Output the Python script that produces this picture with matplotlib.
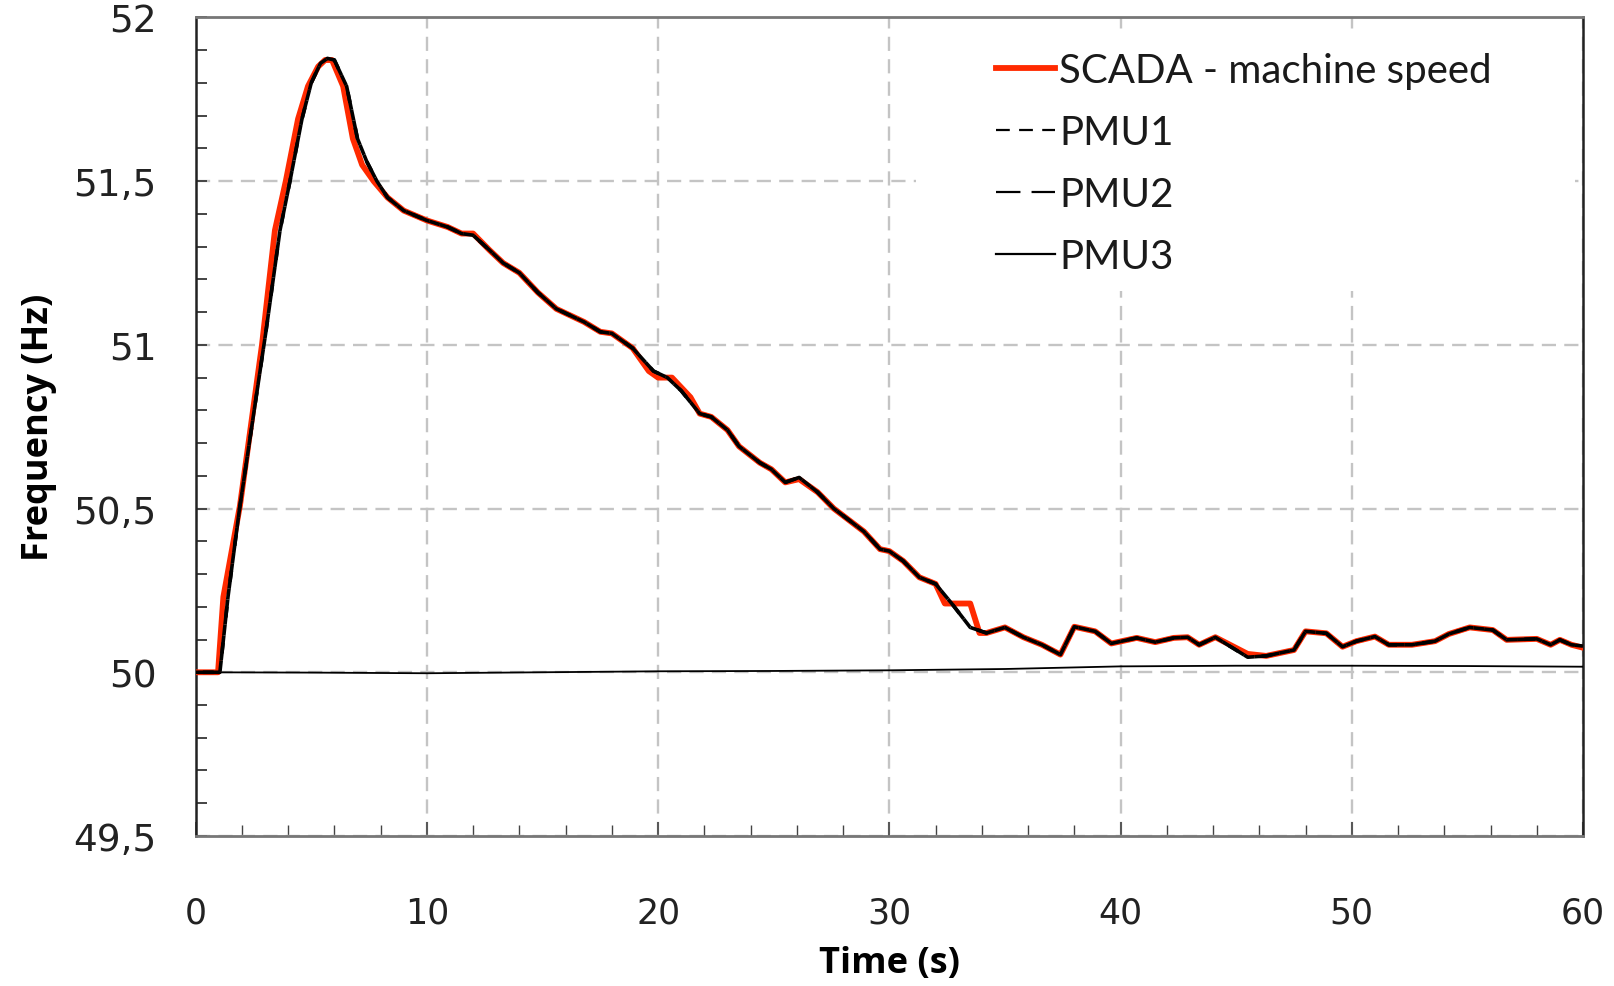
import matplotlib
matplotlib.use("Agg")
import matplotlib.pyplot as plt
from matplotlib.ticker import MultipleLocator, FuncFormatter
from matplotlib.patches import Rectangle
from matplotlib.lines import Line2D

# SCADA machine speed (red)
t_scada = [0.0, 0.97, 1.2, 1.92, 2.87, 3.43, 3.9, 4.43, 4.86, 5.3, 5.6, 5.9,
           6.38, 6.8, 7.2, 7.7, 8.3, 9.0, 10.0, 10.9, 11.5, 12.0, 12.7, 13.3,
           14.0, 14.8, 15.6, 16.8, 17.5, 18.0, 18.9, 19.6, 20.0, 20.6, 21.4,
           21.8, 22.3, 23.0, 23.5, 24.4, 24.9, 25.5, 26.1, 26.9, 27.6, 28.9,
           29.6, 30.0, 30.6, 31.3, 32.0, 32.4, 33.5, 33.9, 34.2, 35.0, 35.8,
           36.6, 37.4, 38.0, 38.9, 39.6, 40.7, 41.5, 42.3, 42.9, 43.4, 44.1,
           45.5, 46.3, 47.5, 48.0, 48.9, 49.6, 50.2, 51.0, 51.6, 52.6, 53.6,
           54.2, 55.1, 56.1, 56.7, 58.0, 58.6, 59.0, 59.5, 60.0]
f_scada = [50.0, 50.0, 50.23, 50.51, 51.0, 51.35, 51.5, 51.69, 51.79, 51.85,
           51.87, 51.87, 51.79, 51.63, 51.55, 51.5, 51.45, 51.41, 51.38, 51.36,
           51.34, 51.34, 51.29, 51.25, 51.22, 51.16, 51.11, 51.07, 51.04,
           51.035, 50.99, 50.92, 50.9, 50.9, 50.84, 50.79, 50.78, 50.74, 50.69,
           50.64, 50.62, 50.58, 50.59, 50.55, 50.5, 50.43, 50.376, 50.37, 50.34,
           50.29, 50.27, 50.21, 50.21, 50.12, 50.12, 50.137, 50.107, 50.084,
           50.054, 50.139, 50.125, 50.088, 50.105, 50.092, 50.105, 50.107,
           50.084, 50.107, 50.056, 50.05, 50.068, 50.125, 50.119, 50.078,
           50.095, 50.109, 50.084, 50.084, 50.095, 50.117, 50.137, 50.129,
           50.099, 50.102, 50.084, 50.099, 50.084, 50.075]

# PMU1 / PMU2 (black, lying on top of each other)
t_pmu = [0.0, 1.05, 1.4, 1.9, 3.05, 3.65, 4.08, 4.6, 5.0, 5.4, 5.7, 6.0, 6.53,
         7.0, 7.4, 7.84, 8.3, 9.0, 10.0, 10.9, 11.5, 12.0, 12.7, 13.3, 14.0,
         14.8, 15.6, 16.8, 17.5, 18.0, 18.9, 19.8, 20.4, 21.0, 21.8, 22.3,
         23.0, 23.5, 24.4, 24.9, 25.5, 26.1, 26.9, 27.6, 28.9, 29.6, 30.0,
         30.6, 31.3, 32.0, 32.7, 33.5, 34.2, 35.0, 35.8, 36.6, 37.4, 38.0,
         38.9, 39.6, 40.7, 41.5, 42.3, 42.9, 43.4, 44.1, 45.5, 46.3, 47.5,
         48.0, 48.9, 49.6, 50.2, 51.0, 51.6, 52.6, 53.6, 54.2, 55.1, 56.1,
         56.7, 58.0, 58.6, 59.0, 59.5, 60.0]
f_pmu = [50.0, 50.0, 50.23, 50.5, 51.045, 51.35, 51.5, 51.69, 51.8, 51.86,
         51.875, 51.87, 51.79, 51.63, 51.56, 51.5, 51.45, 51.41, 51.38, 51.36,
         51.34, 51.335, 51.29, 51.25, 51.22, 51.16, 51.11, 51.07, 51.04,
         51.035, 50.99, 50.92, 50.9, 50.86, 50.79, 50.78, 50.74, 50.69, 50.64,
         50.62, 50.58, 50.595, 50.55, 50.5, 50.43, 50.376, 50.37, 50.34,
         50.29, 50.27, 50.21, 50.137, 50.12, 50.137, 50.107, 50.084, 50.054,
         50.139, 50.125, 50.088, 50.105, 50.092, 50.105, 50.107, 50.084,
         50.107, 50.046, 50.05, 50.068, 50.125, 50.119, 50.078, 50.095,
         50.109, 50.084, 50.084, 50.095, 50.117, 50.137, 50.129, 50.099,
         50.102, 50.084, 50.099, 50.084, 50.08]

# PMU3 (thin flat line)
t_pmu3 = [0, 5, 10, 15, 20, 25, 30, 35, 40, 45, 50, 55, 60]
f_pmu3 = [50.0, 49.999, 49.997, 50.0, 50.003, 50.004, 50.006, 50.01, 50.018,
          50.02, 50.02, 50.019, 50.017]

labels = ['SCADA - machine speed', 'PMU1', 'PMU2', 'PMU3']

fig = plt.figure(figsize=(16.14, 9.87), dpi=100)
ax = fig.add_axes([0.1212, 0.152, 0.8596, 0.8293])

red = '#ff2a00'
ax.plot(t_scada, f_scada, color=red, lw=4.2, zorder=3)
# PMU1 and PMU2 dash patterns interleave, so together they read as one solid curve
ax.plot(t_pmu, f_pmu, color='black', lw=2.6, zorder=4, linestyle=(3, (3, 2)))
ax.plot(t_pmu, f_pmu, color='black', lw=2.6, zorder=4, linestyle=(0, (7, 3)))
ax.plot(t_pmu3, f_pmu3, color='black', lw=1.3, zorder=4)

ax.set_xlim(0, 60)
ax.set_ylim(49.5, 52)
ax.xaxis.set_major_locator(MultipleLocator(10))
ax.xaxis.set_minor_locator(MultipleLocator(2))
ax.yaxis.set_major_locator(MultipleLocator(0.5))
ax.yaxis.set_minor_locator(MultipleLocator(0.1))
ax.yaxis.set_major_formatter(FuncFormatter(lambda v, p: f"{v:g}".replace('.', ',')))

ax.set_axisbelow(True)
ax.grid(True, which='major', color='#c4c4c4', lw=1.7, linestyle=(0, (6, 3.5)))

ax.tick_params(axis='both', which='both', direction='in', color='#444444')
ax.tick_params(axis='y', which='both', length=8, width=1.4, pad=28,
               labelsize=27, labelcolor='#222222')
ax.tick_params(axis='x', which='major', length=10, width=1.2, pad=43,
               labelsize=25, labelcolor='#222222')
ax.tick_params(axis='x', which='minor', length=8, width=1.0)

for s in ['left', 'right']:
    ax.spines[s].set_color('#222222')
    ax.spines[s].set_linewidth(1.8)
for s in ['top', 'bottom']:
    ax.spines[s].set_color('#777777')
    ax.spines[s].set_linewidth(2.0)

# white box behind the legend hides the grid
ax.add_patch(Rectangle((0.519, 0.666), 0.475, 0.316, transform=ax.transAxes,
                       facecolor='white', edgecolor='none', zorder=1))

handles = [Line2D([], [], color=red, lw=4.2),
           Line2D([], [], color='black', lw=1.6, linestyle=(0, (6.2, 4.2))),
           Line2D([], [], color='black', lw=1.6, linestyle=(0, (11, 5))),
           Line2D([], [], color='black', lw=1.6)]
leg = ax.legend(handles, labels, loc='upper left',
                bbox_to_anchor=(0.577, 0.958), frameon=False,
                borderpad=0, borderaxespad=0, handlelength=1.45,
                handletextpad=0.12, labelspacing=0.62,
                prop={'family': ['Lato', 'DejaVu Sans'], 'size': 29})
for txt in leg.get_texts():
    txt.set_color('#1a1a1a')

ax.set_ylabel('Frequency (Hz)', fontsize=26, fontweight='bold',
              family=['Open Sans', 'DejaVu Sans'], labelpad=12)
ax.set_xlabel('Time (s)', fontsize=26, fontweight='bold',
              family=['Open Sans', 'DejaVu Sans'], labelpad=11)

fig.savefig('out.png', dpi=100)
